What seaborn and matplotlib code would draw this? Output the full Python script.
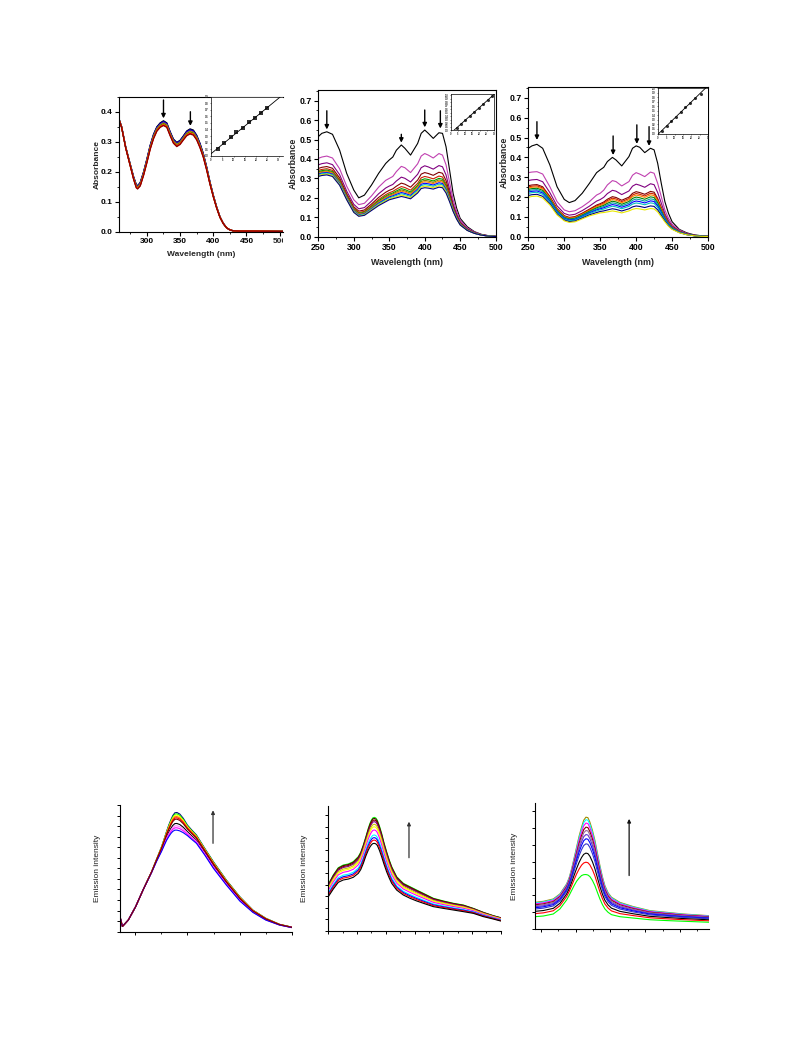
import numpy as np
import pandas as pd
import matplotlib
matplotlib.use('Agg')
import matplotlib.pyplot as plt
import seaborn as sns
from matplotlib.ticker import MultipleLocator, FixedLocator, NullFormatter, FormatStrFormatter
from matplotlib.transforms import Bbox, TransformedBbox, offset_copy

# ---------------- data ----------------
# Panel A : absorption, bundle of spectra (top / bottom envelope + peak heights at 325 nm)
a_wl = [257, 262, 268, 272, 276, 280, 284, 286, 290, 295,
        300, 305, 310, 315, 320, 325, 330, 335, 340, 345,
        350, 355, 360, 365, 370, 375, 380, 385, 390, 395,
        400, 405, 410, 415, 420, 425, 430, 440, 460, 505]
a_top = [0.383, 0.35, 0.284, 0.25, 0.217, 0.184, 0.158, 0.154, 0.165, 0.2,
         0.243, 0.289, 0.325, 0.35, 0.363, 0.370, 0.363, 0.334, 0.309, 0.298,
         0.305, 0.32, 0.336, 0.343, 0.339, 0.322, 0.295, 0.261, 0.217, 0.167,
         0.123, 0.084, 0.051, 0.029, 0.014, 0.007, 0.004, 0.003, 0.003, 0.002]
a_bot = [0.380, 0.347, 0.28, 0.245, 0.21, 0.175, 0.147, 0.143, 0.153, 0.188,
         0.23, 0.275, 0.31, 0.335, 0.348, 0.354, 0.348, 0.32, 0.295, 0.284,
         0.291, 0.306, 0.32, 0.326, 0.322, 0.306, 0.28, 0.248, 0.206, 0.159,
         0.117, 0.08, 0.049, 0.028, 0.014, 0.007, 0.004, 0.003, 0.003, 0.002]
a_peak325 = [0.370, 0.368, 0.366, 0.364, 0.362, 0.360, 0.358, 0.356, 0.354]
a_colors = ['#000000', '#000080', '#0000FF', '#800080', '#C0C000', '#008000', '#FF8000', '#FF0000', '#8B0000']

# Panel B
b_wl = [250, 255, 262, 270, 280, 290, 300, 307, 315, 325,
        335, 345, 350, 355, 360, 367, 372, 380, 390, 395,
        400, 405, 412, 420, 425, 430, 435, 440, 445, 450,
        460, 470, 480, 490, 500]
b_black = [0.515, 0.532, 0.54, 0.527, 0.446, 0.326, 0.24, 0.2, 0.214, 0.266,
           0.326, 0.377, 0.395, 0.41, 0.445, 0.472, 0.455, 0.42, 0.48, 0.532,
           0.549, 0.532, 0.506, 0.535, 0.532, 0.463, 0.343, 0.223, 0.146, 0.094,
           0.051, 0.026, 0.012, 0.005, 0.002]
b_mag = [0.403, 0.41, 0.415, 0.405, 0.35, 0.26, 0.19, 0.165, 0.172, 0.21,
         0.255, 0.29, 0.30, 0.31, 0.335, 0.362, 0.355, 0.33, 0.375, 0.415,
         0.428, 0.42, 0.405, 0.428, 0.42, 0.37, 0.28, 0.19, 0.13, 0.085,
         0.045, 0.024, 0.011, 0.005, 0.002]
b_bot = [0.31, 0.315, 0.318, 0.31, 0.265, 0.19, 0.125, 0.105, 0.11, 0.135,
         0.16, 0.18, 0.19, 0.195, 0.2, 0.207, 0.203, 0.195, 0.225, 0.248,
         0.252, 0.25, 0.245, 0.255, 0.252, 0.225, 0.18, 0.13, 0.09, 0.06,
         0.032, 0.017, 0.008, 0.003, 0.001]
b_peak400 = [0.428, 0.365, 0.33, 0.31, 0.298, 0.29, 0.283, 0.275, 0.268, 0.26, 0.252]
b_colors = ['#C040B0', '#800080', '#800000', '#CC2200', '#00A000', '#808000',
            '#FF8000', '#0000FF', '#00C0C0', '#E8E800', '#000080']

# Panel C
c_wl = b_wl
c_black = [0.446, 0.458, 0.466, 0.446, 0.362, 0.252, 0.188, 0.172, 0.182, 0.219,
           0.269, 0.323, 0.337, 0.35, 0.379, 0.4, 0.387, 0.357, 0.404, 0.446,
           0.458, 0.451, 0.424, 0.446, 0.438, 0.37, 0.269, 0.177, 0.118, 0.076,
           0.037, 0.02, 0.01, 0.005, 0.002]
c_mag = [0.323, 0.326, 0.328, 0.316, 0.252, 0.177, 0.135, 0.126, 0.131, 0.151,
         0.177, 0.21, 0.219, 0.235, 0.261, 0.283, 0.278, 0.256, 0.278, 0.31,
         0.323, 0.316, 0.303, 0.326, 0.32, 0.269, 0.202, 0.135, 0.093, 0.064,
         0.034, 0.017, 0.008, 0.003, 0.002]
c_bot = [0.199, 0.203, 0.205, 0.195, 0.16, 0.11, 0.08, 0.072, 0.075, 0.09,
         0.105, 0.115, 0.12, 0.122, 0.125, 0.13, 0.127, 0.12, 0.13, 0.138,
         0.142, 0.14, 0.135, 0.142, 0.14, 0.125, 0.1, 0.075, 0.053, 0.037,
         0.02, 0.01, 0.005, 0.002, 0.001]
c_peak400 = [0.323, 0.265, 0.227, 0.218, 0.21, 0.2, 0.19, 0.18, 0.17, 0.155, 0.142]
c_colors = ['#C040B0', '#800080', '#800000', '#CC2200', '#FF8000', '#008000',
            '#00A0A0', '#0000FF', '#00C0C0', '#000080', '#E8E800']

# Panel D : emission
d_wl = [435.7, 438, 443.6, 450.6, 457.9, 465.8, 470.5, 475.3, 478, 480.1,
        482.2, 484.2, 486, 488, 490, 492.7, 496, 500, 504, 508.6,
        516.5, 524.8, 537.1, 550, 562.4, 574.8, 587.8, 600]
d_top = [1.42, 0.5, 1.1, 2.37, 4.0, 5.68, 6.85, 8.05, 8.85, 9.5,
         10.1, 10.6, 11.0, 11.27, 11.3, 11.15, 10.75, 10.1, 9.65, 9.16,
         7.9, 6.63, 4.9, 3.31, 2.05, 1.27, 0.7, 0.42]
d_bot = [1.42, 0.5, 1.1, 2.37, 4.0, 5.6, 6.65, 7.6, 8.2, 8.65,
         9.0, 9.3, 9.5, 9.62, 9.62, 9.55, 9.38, 9.1, 8.75, 8.37,
         7.26, 6.0, 4.42, 2.9, 1.83, 1.1, 0.63, 0.38]
d_peaks = [11.29, 11.16, 11.04, 10.91, 10.79, 10.25, 10.03, 9.84, 9.62, 10.66]
d_colors = ['#000080', '#00FF00', '#FFFF00', '#FF8000', '#FF0000', '#000000',
            '#FF80FF', '#FF00FF', '#0000FF', '#800000']

# Panel E
e_wl = [350, 358.7, 367.4, 376, 384.8, 393.5, 402.2, 406.5, 410.9, 415.2,
        419.6, 422.5, 425.4, 427.7, 430, 432.6, 435.3, 439, 442.8, 447,
        451.5, 455.9, 460.3, 469, 480.6, 492.2, 503.8, 515.4, 532.8, 550.2,
        567.6, 585, 602.5, 619.8, 637.3, 650]
e_top = [4.02, 4.83, 5.46, 5.69, 5.78, 5.98, 6.41, 6.8, 7.41, 8.1,
         8.85, 9.28, 9.6, 9.76, 9.8, 9.75, 9.55, 9.05, 8.42, 7.6,
         6.84, 6.15, 5.55, 4.68, 4.11, 3.82, 3.53, 3.25, 2.82, 2.59,
         2.39, 2.24, 1.95, 1.61, 1.32, 1.15]
e_bot = [2.96, 3.62, 4.2, 4.4, 4.48, 4.63, 4.97, 5.3, 5.83, 6.45,
         6.98, 7.25, 7.45, 7.54, 7.56, 7.52, 7.38, 6.95, 6.41, 5.75,
         5.11, 4.58, 4.11, 3.53, 3.10, 2.82, 2.59, 2.39, 2.1, 1.95,
         1.81, 1.67, 1.52, 1.24, 1.03, 0.86]
e_peaks = [9.8, 9.71, 9.57, 9.43, 9.2, 8.99, 8.71, 8.28, 8.05, 7.84, 7.56]
e_colors = ['#00FF00', '#4D0000', '#800000', '#800080', '#CCCC00', '#FFFF00',
            '#FF00FF', '#00FFFF', '#0000FF', '#FF0000', '#000000']

# Panel F
f_wl = [350, 364.3, 381.5, 393, 404.5, 409, 413.1, 417.4, 421.7, 426,
        430.3, 434, 437.8, 441.2, 444.6, 449, 453.3, 457.6, 461.9, 466.2,
        470.5, 476, 481.9, 496.3, 519.2, 547.9, 576.6, 605.3, 650]
f_top = [1.58, 1.64, 1.78, 2.08, 2.67, 3.05, 3.56, 4.2, 4.85, 5.5,
         6.04, 6.45, 6.63, 6.6, 6.34, 5.85, 5.25, 4.5, 3.76, 3.1,
         2.57, 2.15, 1.88, 1.58, 1.33, 1.09, 0.99, 0.89, 0.79]
f_bot = [0.73, 0.77, 0.89, 1.19, 1.72, 2.0, 2.28, 2.57, 2.83, 3.02,
         3.17, 3.22, 3.23, 3.2, 3.11, 2.88, 2.57, 2.17, 1.78, 1.45,
         1.19, 0.99, 0.85, 0.73, 0.65, 0.55, 0.5, 0.46, 0.4]
f_peaks = [6.63, 6.48, 6.28, 6.04, 5.84, 5.6, 5.35, 5.05, 4.5, 3.96, 3.23]
f_colors = ['#A08C00', '#00FFFF', '#FF00FF', '#800000', '#996699', '#6633CC',
            '#0000FF', '#3333CC', '#000000', '#FF0000', '#00FF00']

# Insets: [DNA] vs [DNA]/(ea-ef)
ia_x = [2.9, 5.8, 8.7, 11.3, 14, 16.9, 19.6, 22.2, 25.1]
ia_y = [0.095, 0.194, 0.28, 0.36, 0.43, 0.51, 0.58, 0.65, 0.73]
ib_x = [4.3, 7.2, 10.2, 13.4, 16.4, 19.6, 22.6, 25.8, 28.8]
ib_y = [0.07, 0.18, 0.29, 0.41, 0.52, 0.64, 0.75, 0.86, 0.98]
ic_x = [2.2, 5.2, 7.8, 10.8, 13.6, 16.4, 19.2, 22.4, 25.6]
ic_y = [0.048, 0.165, 0.268, 0.37, 0.473, 0.576, 0.677, 0.78, 0.875]

# ---------------- style ----------------
sns.set_theme(style='ticks')
plt.rcParams['font.family'] = ['Liberation Sans', 'DejaVu Sans']
plt.rcParams['font.weight'] = 'bold'
plt.rcParams['axes.labelweight'] = 'bold'
plt.rcParams['mathtext.default'] = 'regular'

W, H = 793, 1057
fig = plt.figure(figsize=(W / 100, H / 100), dpi=100)
fig.patch.set_facecolor('white')


def add_ax(l, t, r, b):
    return fig.add_axes([l / W, 1 - b / H, (r - l) / W, (b - t) / H])


def family(bot, top, peaks, idx):
    bot = np.asarray(bot, float)
    top = np.asarray(top, float)
    pb, pt = bot[idx], top[idx]
    return [bot + (p - pb) / (pt - pb) * (top - bot) for p in peaks]


def draw_family(ax, wl, curves, colors, lw):
    names = [f'c{i}' for i in range(len(curves))]
    df = pd.DataFrame({'wl': np.tile(np.asarray(wl, float), len(curves)),
                       'v': np.concatenate(curves),
                       'c': np.repeat(names, len(wl))})
    sns.lineplot(data=df, x='wl', y='v', hue='c', hue_order=names,
                 palette=dict(zip(names, colors)), legend=False, ax=ax,
                 linewidth=lw, errorbar=None, estimator=None, sort=False)
    ax.set_xlabel('')
    ax.set_ylabel('')


def arrow(ax, x, y0, y1, color='black', lw=1.0, ms=6):
    ax.annotate('', xy=(x, y1), xytext=(x, y0),
                arrowprops=dict(arrowstyle='-|>', color=color, lw=lw,
                                mutation_scale=ms, shrinkA=0, shrinkB=0))


def style_main(ax, fs):
    for s in ax.spines.values():
        s.set_linewidth(0.8)
        s.set_color('black')
    ax.tick_params(which='major', direction='out', length=3, width=0.8,
                   labelsize=fs, pad=1.5, colors='black', bottom=True, left=True)
    ax.tick_params(which='minor', direction='out', length=1.5, width=0.6,
                   colors='black', bottom=True, left=True)


def style_inset(ax, xlim, ylim, xmaj, ymaj, ylab):
    ax.set_xlim(*xlim)
    ax.set_ylim(*ylim)
    for s in ax.spines.values():
        s.set_linewidth(0.5)
        s.set_color('black')
    ax.xaxis.set_major_locator(MultipleLocator(xmaj))
    ax.yaxis.set_major_locator(MultipleLocator(ymaj))
    ax.yaxis.set_major_formatter(FormatStrFormatter('%.1f'))
    ax.tick_params(which='major', direction='out', length=1.0, width=0.4,
                   labelsize=1.8, pad=0.5, bottom=True, left=True)
    ax.set_xlabel('[DNA] (\u03bcM)', fontsize=1.9, labelpad=0.5)
    ax.set_ylabel(ylab, fontsize=1.9, labelpad=0.5)


def inset_fit(ax, x, y, marker):
    sns.regplot(x=x, y=y, ax=ax, ci=None, truncate=False, marker=marker,
                scatter_kws=dict(s=5, color='black', linewidths=0),
                line_kws=dict(color='black', lw=0.6))
    ax.set_xlabel('')
    ax.set_ylabel('')


# ---------------- Panel A ----------------
axA = add_ax(119, 96.7, 283, 232)
draw_family(axA, a_wl, family(a_bot, a_top, a_peak325, 15), a_colors, 0.9)
axA.set_xlim(258, 505)
axA.set_ylim(0, 0.45)
style_main(axA, 6)
axA.spines['right'].set_visible(False)
axA.xaxis.set_major_locator(FixedLocator([300, 350, 400, 450, 500]))
axA.set_xticklabels(['300', '350', '400', '450', ''])
axA.xaxis.set_minor_locator(MultipleLocator(25))
axA.yaxis.set_major_locator(MultipleLocator(0.1))
axA.yaxis.set_minor_locator(MultipleLocator(0.05))
axA.yaxis.set_major_formatter(FormatStrFormatter('%.1f'))
t500 = axA.text(500, 0, '500', fontsize=6, fontweight='bold', ha='center', va='top',
                transform=offset_copy(axA.get_xaxis_transform(), fig=fig, y=-4.5, units='points'))
t500.set_clip_on(True)
t500.set_clip_box(TransformedBbox(Bbox([[0, 0], [283 / W, 1]]), fig.transFigure))
axA.set_xlabel('Wavelength (nm)', fontsize=6)
axA.set_ylabel('Absorbance', fontsize=6)
axA.xaxis.set_label_coords(0.5, -0.14)
axA.yaxis.set_label_coords(-0.112, 0.5)
arrow(axA, 325, 0.439, 0.378)
arrow(axA, 365.5, 0.40, 0.353)

inA = add_ax(211, 96.7, 283, 155.7)
style_inset(inA, (0, 32), (0, 0.9), 5, 0.1, '[DNA]/(\u03b5a-\u03b5f) (x 10$^{-9}$)')
inset_fit(inA, ia_x, ia_y, 's')
inA.spines['right'].set_visible(False)

# ---------------- Panel B ----------------
axB = add_ax(318.3, 90, 495.7, 236.7)
curvesB = [np.asarray(b_black)] + family(b_bot, b_mag, b_peak400, 20)
draw_family(axB, b_wl, curvesB, ['#000000'] + b_colors, 0.8)
axB.set_xlim(250, 500)
axB.set_ylim(0, 0.755)
style_main(axB, 6.3)
axB.xaxis.set_major_locator(MultipleLocator(50))
axB.xaxis.set_minor_locator(MultipleLocator(25))
axB.yaxis.set_major_locator(MultipleLocator(0.1))
axB.yaxis.set_minor_locator(MultipleLocator(0.05))
axB.yaxis.set_major_formatter(FormatStrFormatter('%.1f'))
axB.set_xlabel('Wavelength (nm)', fontsize=6.4)
axB.set_ylabel('Absorbance', fontsize=6.4)
axB.xaxis.set_label_coords(0.5, -0.142)
axB.yaxis.set_label_coords(-0.114, 0.5)
arrow(axB, 262, 0.648, 0.552)
arrow(axB, 367, 0.527, 0.484)
arrow(axB, 400, 0.652, 0.563)
arrow(axB, 422, 0.648, 0.557)

inB = add_ax(450.5, 93.5, 494, 130.3)
style_inset(inB, (0, 30), (0, 1.05), 5, 0.1, '[DNA]/(\u03b5a-\u03b5f)')
inset_fit(inB, ib_x, ib_y, 'o')

# ---------------- Panel C ----------------
axC = add_ax(528.3, 87, 708, 236.7)
curvesC = [np.asarray(c_black)] + family(c_bot, c_mag, c_peak400, 20)
draw_family(axC, c_wl, curvesC, ['#000000'] + c_colors, 0.8)
axC.set_xlim(250, 500)
axC.set_ylim(0, 0.755)
style_main(axC, 6.3)
axC.xaxis.set_major_locator(MultipleLocator(50))
axC.xaxis.set_minor_locator(MultipleLocator(25))
axC.yaxis.set_major_locator(MultipleLocator(0.1))
axC.yaxis.set_minor_locator(MultipleLocator(0.05))
axC.yaxis.set_major_formatter(FormatStrFormatter('%.1f'))
axC.set_xlabel('Wavelength (nm)', fontsize=6.4)
axC.set_ylabel('Absorbance', fontsize=6.4)
axC.xaxis.set_label_coords(0.5, -0.139)
axC.yaxis.set_label_coords(-0.107, 0.5)
arrow(axC, 262, 0.58, 0.488)
arrow(axC, 368, 0.508, 0.412)
arrow(axC, 401, 0.564, 0.468)
arrow(axC, 418, 0.555, 0.458)

inC = add_ax(658, 88, 708, 133.5)
style_inset(inC, (0, 30), (0, 1.0), 5, 0.1, '[DNA]/(\u03b5a-\u03b5f)')
inset_fit(inC, ic_x, ic_y, 'o')


# ---------------- Emission panels ----------------
def style_em(ax, xlim, ylim, xmaj, xmin, ymaj, labx):
    ax.set_xlim(*xlim)
    ax.set_ylim(*ylim)
    sns.despine(ax=ax)
    for s in ('left', 'bottom'):
        ax.spines[s].set_linewidth(0.8)
        ax.spines[s].set_color('black')
    ax.xaxis.set_major_locator(MultipleLocator(xmaj))
    ax.xaxis.set_minor_locator(MultipleLocator(xmin))
    ax.yaxis.set_major_locator(MultipleLocator(ymaj))
    ax.xaxis.set_major_formatter(NullFormatter())
    ax.yaxis.set_major_formatter(NullFormatter())
    ax.tick_params(which='major', direction='out', length=2.5, width=0.7,
                   bottom=True, left=True, colors='black')
    ax.tick_params(which='minor', direction='out', length=1.5, width=0.6,
                   bottom=True, left=True, colors='black')
    ax.set_ylabel('Emission intensity', fontsize=6, fontweight='normal', color='#222222')
    ax.yaxis.set_label_coords(labx, 0.5)


axD = add_ax(120, 805, 292.3, 931.7)
draw_family(axD, d_wl, family(d_bot, d_top, d_peaks, 14), d_colors, 0.8)
style_em(axD, (435.7, 600), (0, 12), 50, 25, 1, -0.108)
arrow(axD, 524.4, 8.37, 11.5, color='#333333', lw=0.9, ms=5)

axE = add_ax(328.3, 806, 500.7, 931)
draw_family(axE, e_wl, family(e_bot, e_top, e_peaks, 14), e_colors, 0.8)
style_em(axE, (350, 650), (0, 10.78), 50, 25, 1, -0.12)
arrow(axE, 490.4, 6.32, 9.43, color='#333333', lw=0.9, ms=5)

axF = add_ax(535, 803, 709, 929)
draw_family(axF, f_wl, family(f_bot, f_top, f_peaks, 12), f_colors, 0.8)
style_em(axF, (350, 650), (0, 7.47), 60, 30, 1, -0.096)
arrow(axF, 512.3, 3.17, 6.53, color='#111111', lw=0.9, ms=5)

fig.savefig('out.png', dpi=100, facecolor='white')
